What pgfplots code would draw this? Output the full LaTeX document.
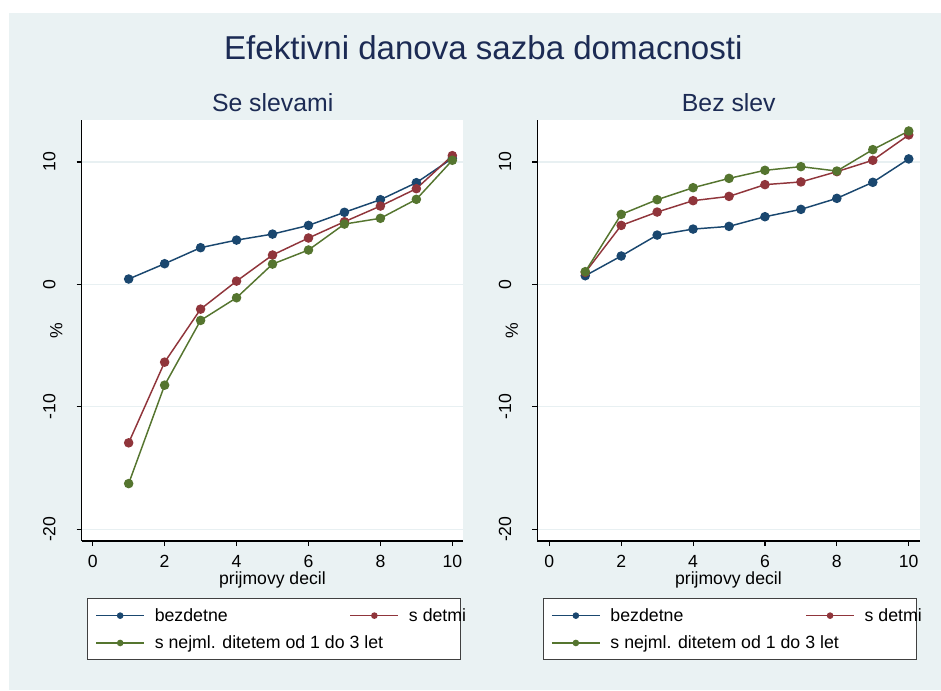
\documentclass[border=0pt]{standalone}
\usepackage{fontspec}
\setmainfont{Liberation Sans}
\usepackage{pgfplots}
\pgfplotsset{compat=1.18}

\definecolor{bg}{RGB}{234,242,243}
\definecolor{gridc}{RGB}{232,240,242}
\definecolor{stnavy}{RGB}{26,71,111}
\definecolor{stmaroon}{RGB}{144,53,59}
\definecolor{stgreen}{RGB}{85,117,47}
\definecolor{ttl}{RGB}{28,43,84}

\pgfplotsset{
  stata/.style={
    scale only axis,
    height=315.75pt,
    axis lines*=left,
    axis line style={black, line width=0.8pt},
    axis background/.style={fill=white},
    ymin=-20.96, ymax=13.43,
    xtick={0,2,4,6,8,10},
    ytick={-20,-10,0,10},
    tick align=outside,
    major tick length=3.9pt,
    tick style={black, line width=0.8pt},
    ymajorgrids,
    grid style={gridc, line width=1pt},
    /pgf/number format/assume math mode=true,
    ticklabel style={font=\fontsize{13.2}{13.2}\selectfont, inner sep=0pt},
    xticklabel style={anchor=north},
    xticklabel shift=6.6pt,
    yticklabel style={rotate=90, anchor=south},
    yticklabel shift=15.5pt,
    xlabel={prijmovy decil},
    xlabel style={at={(axis description cs:0.5,-0.1029)}, anchor=base,
      inner sep=0pt, font=\fontsize{13.2}{13.2}\selectfont},
    ylabel={\%},
    ylabel style={at={(axis description cs:-0.051,0.5)}, anchor=base,
      inner sep=0pt, font=\fontsize{13.2}{13.2}\selectfont},
    legend columns=2,
    legend cell align=left,
    legend style={anchor=north west, draw=black!75, line width=0.8pt,
      fill=white, inner xsep=5.8pt, inner ysep=4.7pt,
      row sep=4.7pt, column sep=0pt,
      nodes={inner sep=0pt, text height=12.4pt, text depth=3.4pt},
      font=\fontsize{13.3}{13.3}\selectfont},
    legend image code/.code={
      \draw[mark repeat=2, mark phase=2, ##1, mark size=2pt, line width=0.9pt]
        plot coordinates {(0pt,0pt) (18pt,0pt) (36pt,0pt)};
    },
  },
  ser/.style={color=#1, line width=1.1pt, mark=*, mark size=3pt,
    mark options={solid, fill=#1, draw=#1}},
}

\newcommand{\legA}{\hspace{7.5pt}\makebox[146.25pt][l]{bezdetne}}
\newcommand{\legB}{\hspace{7.5pt}\makebox[33pt][l]{s detmi}}
\newcommand{\legC}{\hspace{7.5pt}\makebox[146.25pt][l]{s nejml. ditetem od 1 do 3 let}}

\begin{document}
\begin{tikzpicture}
\fill[white] (0pt,0pt) rectangle (705.75pt,517.5pt);
\fill[bg] (6.75pt,0pt) rectangle (705.75pt,507.75pt);

\node[anchor=base, text=ttl, font=\fontsize{24.8}{24.8}\selectfont]
  at (362.5pt,472.5pt) {Efektivni danova sazba domacnosti};
\node[anchor=base, text=ttl, font=\fontsize{18.6}{18.6}\selectfont]
  at (204.5pt,433.5pt) {Se slevami};
\node[anchor=base, text=ttl, font=\fontsize{18.6}{18.6}\selectfont]
  at (546.6pt,433.5pt) {Bez slev};

% Left panel: Se slevami
\begin{axis}[stata,
  at={(61.28pt,111.75pt)}, anchor=south west,
  width=286.05pt,
  xmin=-0.306, xmax=10.3,
  legend style={at={(axis description cs:0.0147,-0.1361)}},
]
\addplot[ser=stnavy] coordinates {
 (1,0.44) (2,1.69) (3,3.00) (4,3.62) (5,4.11) (6,4.82) (7,5.89) (8,6.92) (9,8.31) (10,10.30)};
\addplot[ser=stmaroon] coordinates {
 (1,-12.94) (2,-6.35) (3,-2.02) (4,0.27) (5,2.40) (6,3.79) (7,5.12) (8,6.40) (9,7.82) (10,10.52)};
\addplot[ser=stgreen] coordinates {
 (1,-16.27) (2,-8.23) (3,-2.94) (4,-1.09) (5,1.66) (6,2.81) (7,4.93) (8,5.40) (9,6.95) (10,10.14)};
\legend{\legA,\legB,\legC}
\end{axis}

% Right panel: Bez slev
\begin{axis}[stata,
  at={(402.98pt,111.75pt)}, anchor=south west,
  width=286.65pt,
  xmin=-0.334, xmax=10.3,
  legend style={at={(axis description cs:0.0149,-0.1361)}},
]
\addplot[ser=stnavy] coordinates {
 (1,0.71) (2,2.32) (3,4.03) (4,4.52) (5,4.74) (6,5.53) (7,6.13) (8,7.03) (9,8.34) (10,10.25)};
\addplot[ser=stmaroon] coordinates {
 (1,0.98) (2,4.82) (3,5.91) (4,6.84) (5,7.19) (6,8.15) (7,8.37) (8,9.21) (9,10.14) (10,12.21)};
\addplot[ser=stgreen] coordinates {
 (1,1.04) (2,5.72) (3,6.92) (4,7.90) (5,8.66) (6,9.32) (7,9.62) (8,9.26) (9,11.01) (10,12.53)};
\legend{\legA,\legB,\legC}
\end{axis}
\end{tikzpicture}
\end{document}
